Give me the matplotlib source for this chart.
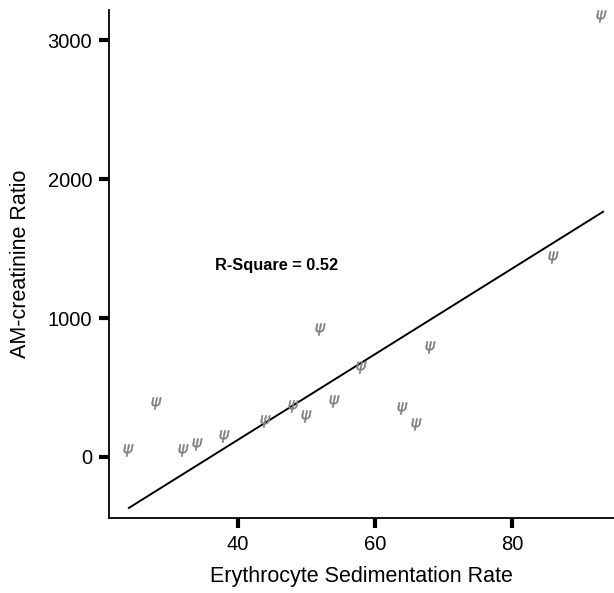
import numpy as np
import matplotlib.pyplot as plt

plt.rcParams["font.family"] = ["Liberation Sans", "DejaVu Sans"]

# data
esr = [24, 28, 32, 34, 38, 44, 48, 50, 52, 54, 58, 64, 66, 68, 86, 93]
am_ratio = [50, 388, 50, 94, 151, 259, 367, 295, 921, 403, 648, 353, 237, 791, 1439, 3173]
y_ticks = [0, 1000, 2000, 3000]
x_ticks = [40, 60, 80]
# fitted line as shown in the reference
fit_slope = 30.8
fit_intercept = -1109
fit_range = [24.1, 93.3]

x = np.array(esr, dtype=float)
y = np.array(am_ratio, dtype=float)

fig = plt.figure(figsize=(6.14, 5.93), dpi=100)
ax = fig.add_axes([0.1775, 0.1265, 0.8225, 0.8565])

xs = np.array(fit_range)
ax.plot(xs, fit_slope * xs + fit_intercept, color="black", lw=1.4)
ax.scatter(x, y, marker=r"$\psi$", s=75, color="#808080", linewidths=0.3, zorder=3)

ax.text(36.6, 1380, "R-Square = 0.52", fontsize=11.8, fontweight="bold", va="center")

ax.set_xlim(21.2, 94.9)
ax.set_ylim(-439, 3216)
ax.set_xticks(x_ticks)
ax.set_yticks(y_ticks)
ax.tick_params(direction="out", length=7, width=3, labelsize=14.5, pad=5)
for side in ("top", "right"):
    ax.spines[side].set_visible(False)
for side in ("left", "bottom"):
    ax.spines[side].set_linewidth(1.3)

ax.set_xlabel("Erythrocyte Sedimentation Rate", fontsize=15.5, labelpad=9)
ax.set_ylabel("AM-creatinine Ratio", fontsize=15.5, labelpad=12)

fig.savefig("out.png", dpi=100)
